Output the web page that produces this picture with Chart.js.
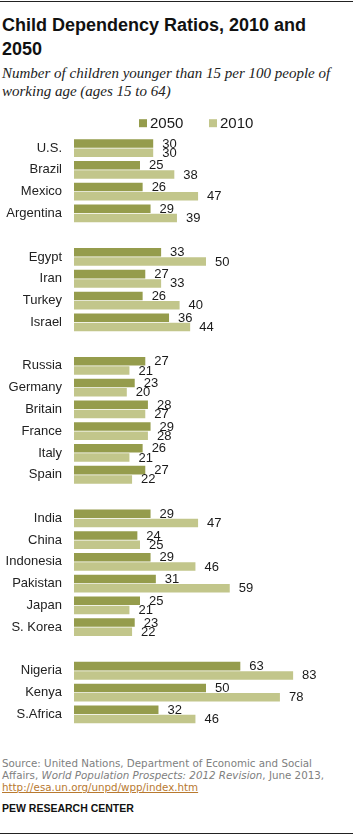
<!DOCTYPE html>
<html>
<head>
<meta charset="utf-8">
<script src="https://cdn.jsdelivr.net/npm/chart.js@4/dist/chart.umd.min.js"></script>
<style>
  html, body { margin: 0; padding: 0; background: #fff; }
  body { width: 355px; height: 836px; position: relative; overflow: hidden; }
  .rule { position: absolute; left: 0; width: 353px; height: 1px; background: #222; }
  #title { position: absolute; left: 2px; top: 13px; font: bold 18px/24px "Liberation Sans", Arial, sans-serif; color: #111; margin: 0; }
  #subtitle { position: absolute; left: 2px; top: 64px; font: italic 15px/18px "Liberation Serif", "DejaVu Serif", serif; color: #222; margin: 0; }
  #chartWrap { position: absolute; left: 0; top: 100px; width: 355px; height: 645px; }
  #source { position: absolute; left: 2px; top: 757px; font: 10.3px/12px "DejaVu Sans", Verdana, sans-serif; color: #808080; margin: 0; }
  #source a { color: #b8792f; text-decoration: underline; }
  #pew { position: absolute; left: 2px; top: 802px; font: bold 10.5px/12px "Liberation Sans", Arial, sans-serif; color: #111; margin: 0; }
</style>
</head>
<body>
<div class="rule" style="top:1px"></div>
<h1 id="title">Child Dependency Ratios, 2010 and<br>2050</h1>
<p id="subtitle">Number of children younger than 15 per 100 people of<br>working age (ages 15 to 64)</p>
<div id="chartWrap"><canvas id="c" width="355" height="645"></canvas></div>
<p id="source">Source: United Nations, Department of Economic and Social<br>Affairs, <i>World Population Prospects: 2012 Revision</i>, June 2013,<br><a href="#">http://esa.un.org/unpd/wpp/index.htm</a></p>
<p id="pew">PEW RESEARCH CENTER</p>
<div class="rule" style="top:833px"></div>
<script>
// Categories ('' = spacer between regional groups)
const categories = [
  "U.S.", "Brazil", "Mexico", "Argentina", "",
  "Egypt", "Iran", "Turkey", "Israel", "",
  "Russia", "Germany", "Britain", "France", "Italy", "Spain", "",
  "India", "China", "Indonesia", "Pakistan", "Japan", "S. Korea", "",
  "Nigeria", "Kenya", "S.Africa"
];
const values2050 = [
  30, 25, 26, 29, null,
  33, 27, 26, 36, null,
  27, 23, 28, 29, 26, 27, null,
  29, 24, 29, 31, 25, 23, null,
  63, 50, 32
];
const values2010 = [
  30, 38, 47, 39, null,
  50, 33, 40, 44, null,
  21, 20, 27, 28, 21, 22, null,
  47, 25, 46, 59, 21, 22, null,
  83, 78, 46
];
const seriesNames = ["2050", "2010"];
const seriesColors = ["#959c4c", "#c2c68b"];

const valueLabels = {
  id: 'valueLabels',
  afterDatasetsDraw(chart) {
    const ctx = chart.ctx;
    ctx.save();
    ctx.font = '13px "Liberation Sans", Arial, sans-serif';
    ctx.fillStyle = '#1a1a1a';
    ctx.textAlign = 'left';
    ctx.textBaseline = 'middle';
    chart.data.datasets.forEach((ds, di) => {
      const meta = chart.getDatasetMeta(di);
      meta.data.forEach((el, i) => {
        const v = ds.data[i];
        if (v === null || v === undefined) return;
        ctx.fillText(String(v), el.x + 9, el.y + 0.5);
      });
    });
    ctx.restore();
  }
};

const customLegend = {
  id: 'customLegend',
  afterDraw(chart) {
    const ctx = chart.ctx;
    const y = chart.chartArea.top - 14;
    const starts = [139, 209];
    ctx.save();
    ctx.font = '15px "Liberation Sans", Arial, sans-serif';
    ctx.textBaseline = 'middle';
    ctx.textAlign = 'left';
    chart.data.datasets.forEach((ds, i) => {
      const x = starts[i];
      ctx.fillStyle = ds.backgroundColor;
      ctx.fillRect(x, y - 4, 8, 8);
      ctx.fillStyle = '#1a1a1a';
      ctx.fillText(ds.label, x + 11, y + 0.5);
    });
    ctx.restore();
  }
};

new Chart(document.getElementById('c'), {
  type: 'bar',
  data: {
    labels: categories,
    datasets: [
      { label: seriesNames[0], data: values2050, backgroundColor: seriesColors[0] },
      { label: seriesNames[1], data: values2010, backgroundColor: seriesColors[1] }
    ]
  },
  options: {
    indexAxis: 'y',
    responsive: false,
    devicePixelRatio: 1,
    animation: false,
    categoryPercentage: 0.85,
    barPercentage: 0.92,
    layout: { padding: { top: 37.2, bottom: 8.6, left: 0, right: 17 } },
    plugins: { legend: { display: false }, tooltip: { enabled: false } },
    scales: {
      x: { display: false, min: 0, max: 100 },
      y: {
        grid: { display: false, drawTicks: false, tickLength: 0 },
        border: { display: false },
        ticks: {
          padding: 12,
          color: '#222',
          font: { family: '"Liberation Sans", Arial, sans-serif', size: 13 }
        },
        afterFit(scale) { scale.width = 74; }
      }
    }
  },
  plugins: [valueLabels, customLegend]
});
</script>
</body>
</html>
